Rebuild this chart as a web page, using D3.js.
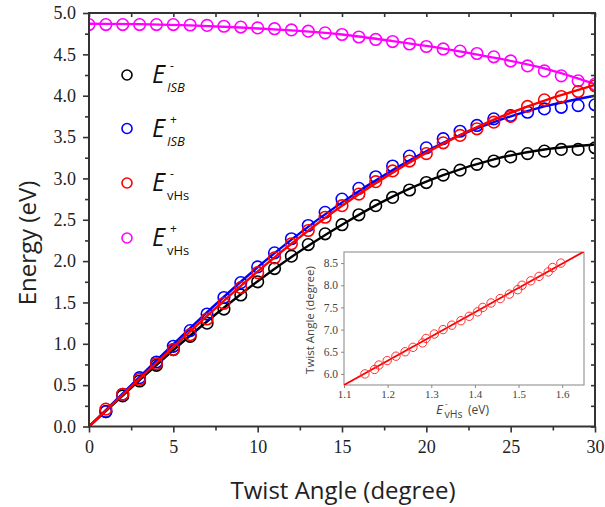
<!DOCTYPE html>
<html><head><meta charset="utf-8">
<script src="https://cdn.jsdelivr.net/npm/d3@7"></script>
<style>body{margin:0;background:#fff}svg{display:block}</style>
</head><body>
<svg id="c" width="605" height="507"></svg>
<script>
// ---- data ----
const angles = d3.range(1, 31);
const eIsbMinus = [0.18,0.37,0.55,0.74,0.93,1.09,1.25,1.42,1.59,1.75,1.91,2.06,2.20,2.33,2.44,2.56,2.67,2.77,2.86,2.95,3.04,3.10,3.17,3.21,3.26,3.30,3.33,3.35,3.35,3.37];
const eIsbPlus  = [0.18,0.39,0.59,0.78,0.97,1.16,1.36,1.56,1.74,1.93,2.10,2.27,2.43,2.59,2.75,2.88,3.02,3.15,3.27,3.37,3.48,3.57,3.64,3.72,3.76,3.80,3.84,3.86,3.88,3.89];
const eVhsMinus = [0.21,0.39,0.57,0.76,0.93,1.11,1.30,1.49,1.68,1.86,2.04,2.21,2.37,2.53,2.67,2.81,2.96,3.09,3.21,3.30,3.43,3.52,3.60,3.68,3.75,3.87,3.95,3.99,4.05,4.12];
const magAngles = d3.range(0, 31);
const eVhsPlus  = [4.86,4.86,4.86,4.86,4.86,4.86,4.855,4.85,4.84,4.83,4.82,4.81,4.795,4.78,4.76,4.74,4.71,4.68,4.655,4.625,4.595,4.565,4.54,4.51,4.47,4.42,4.36,4.30,4.24,4.18,4.14];
// fitted curves
const fitAngles = [0,3,6,9,12,15,18,21,24,27,30];
const fitIsbMinus = [0,0.56,1.10,1.60,2.05,2.44,2.78,3.04,3.23,3.35,3.41];
const fitIsbPlus  = [0,0.60,1.19,1.75,2.26,2.71,3.10,3.43,3.68,3.87,4.00];
const fitVhsMinus = [0,0.58,1.15,1.70,2.21,2.67,3.07,3.42,3.71,3.94,4.13];
const fitVhsPlus  = [4.87,4.865,4.85,4.825,4.79,4.74,4.66,4.57,4.46,4.33,4.14];
const xTicks = [0,5,10,15,20,25,30];
const yTicks = [0,0.5,1,1.5,2,2.5,3,3.5,4,4.5,5];
// inset
const insetE = [1.148,1.17,1.18,1.199,1.219,1.24,1.258,1.28,1.288,1.307,1.327,1.347,1.368,1.387,1.406,1.418,1.437,1.458,1.479,1.498,1.508,1.528,1.547,1.568,1.578,1.597];
const insetAngle = [6.0,6.1,6.2,6.3,6.4,6.5,6.6,6.7,6.8,6.9,7.0,7.1,7.2,7.3,7.4,7.5,7.6,7.7,7.8,7.9,8.0,8.1,8.2,8.3,8.4,8.5];
const insetFitE = [1.1,1.65];
const insetFitAngle = [5.75,8.76];
const insetXTicks = [1.1,1.2,1.3,1.4,1.5,1.6];
const insetYTicks = [6.0,6.5,7.0,7.5,8.0,8.5];

const colors = {isbM:"#000000", isbP:"#0000ff", vhsM:"#ff0000", vhsP:"#ff00ff"};

const svg = d3.select("#c");
const L=89, R=595, T=13, B=426.5;
const x = d3.scaleLinear().domain([0,30]).range([L,R]);
const y = d3.scaleLinear().domain([0,5]).range([B,T]);
const serif = "Liberation Serif, Times New Roman, serif";
const sans = "Open Sans, Noto Sans, sans-serif";

svg.append("clipPath").attr("id","clip").append("rect")
  .attr("x",L-1).attr("y",T).attr("width",R-L+2).attr("height",B-T);

const plot = svg.append("g").attr("clip-path","url(#clip)");
const line = d3.line().x(d=>x(d[0])).y(d=>y(d[1])).curve(d3.curveNatural);

function series(xs, ys, fx, fy, col){
  plot.append("path").datum(fx.map((a,i)=>[a,fy[i]]))
    .attr("d",line).attr("fill","none").attr("stroke",col).attr("stroke-width",2.4);
  plot.append("g").selectAll("circle").data(xs.map((a,i)=>[a,ys[i]])).join("circle")
    .attr("cx",d=>x(d[0])).attr("cy",d=>y(d[1])).attr("r",5.8)
    .attr("fill","none").attr("stroke",col).attr("stroke-width",1.6);
}
series(magAngles, eVhsPlus, fitAngles, fitVhsPlus, colors.vhsP);
series(angles, eIsbMinus, fitAngles, fitIsbMinus, colors.isbM);
series(angles, eIsbPlus, fitAngles, fitIsbPlus, colors.isbP);
series(angles, eVhsMinus, fitAngles, fitVhsMinus, colors.vhsM);
// small red cross at origin
plot.append("path").attr("d",`M${x(0)-4},${y(0)-4}L${x(0)+4},${y(0)+4}M${x(0)-4},${y(0)+4}L${x(0)+4},${y(0)-4}`)
  .attr("stroke",colors.vhsM).attr("stroke-width",1.6);

// axes
const axCol="#333";
function styleAxis(g){ g.select(".domain").remove(); g.selectAll("line").attr("stroke",axCol).attr("stroke-width",1.6); }
function styleLabels(g, size, col){ g.attr("font-family",null); g.selectAll("text").style("font-family",serif).style("font-size",size+"px").attr("fill",col); }
const minorX = d3.range(2.5,30,5), minorY = d3.range(0.25,5,0.5);
// bottom
let g = svg.append("g").attr("transform",`translate(0,${B})`)
  .call(d3.axisBottom(x).tickValues(xTicks).tickSize(6).tickPadding(8).tickFormat(d3.format("d")));
styleAxis(g); styleLabels(g,18,"#222");
g = svg.append("g").attr("transform",`translate(0,${B})`).call(d3.axisBottom(x).tickValues(minorX).tickSize(4).tickFormat(""));
styleAxis(g);
// left
g = svg.append("g").attr("transform",`translate(${L},0)`)
  .call(d3.axisLeft(y).tickValues(yTicks).tickSize(6).tickPadding(7).tickFormat(d3.format(".1f")));
styleAxis(g); styleLabels(g,18,"#222");
g = svg.append("g").attr("transform",`translate(${L},0)`).call(d3.axisLeft(y).tickValues(minorY).tickSize(4).tickFormat(""));
styleAxis(g);
// top (inward)
g = svg.append("g").attr("transform",`translate(0,${T})`).call(d3.axisBottom(x).tickValues(xTicks.concat(minorX)).tickSize(4).tickFormat(""));
styleAxis(g);
// right (inward)
g = svg.append("g").attr("transform",`translate(${R},0)`).call(d3.axisLeft(y).tickValues(yTicks.concat(minorY)).tickSize(4).tickFormat(""));
styleAxis(g);
svg.append("rect").attr("x",L).attr("y",T).attr("width",R-L).attr("height",B-T)
  .attr("fill","none").attr("stroke",axCol).attr("stroke-width",2);

// axis titles
svg.append("text").attr("x",343).attr("y",499).attr("text-anchor","middle")
  .style("font-family",sans).style("font-size","24px").attr("fill","#222").text("Twist Angle (degree)");
svg.append("text").attr("transform","translate(36,243) rotate(-90)").attr("text-anchor","middle")
  .style("font-family",sans).style("font-size","24px").attr("fill","#222").text("Energy (eV)");

// legend
const legend = [
  {col:colors.isbM, sup:"-", sub:"ISB", subItalic:true},
  {col:colors.isbP, sup:"+", sub:"ISB", subItalic:true},
  {col:colors.vhsM, sup:"-", sub:"vHs", subItalic:false},
  {col:colors.vhsP, sup:"+", sub:"vHs", subItalic:false}
];
const legY = [75,128.5,183,238];
legend.forEach((d,i)=>{
  const cy = legY[i];
  svg.append("circle").attr("cx",127).attr("cy",cy).attr("r",5).attr("fill","none")
    .attr("stroke",d.col).attr("stroke-width",1.6);
  svg.append("text").attr("x",152).attr("y",cy+8).style("font-family",sans).attr("font-style","italic")
    .style("font-size","25px").attr("fill","#111").text("E");
  svg.append("text").attr("x",170).attr("y",cy-5).style("font-family",sans)
    .style("font-size","12px").attr("fill","#111").text(d.sup);
  svg.append("text").attr("x",167).attr("y",cy+17).style("font-family",sans)
    .attr("font-style",d.subItalic?"italic":"normal")
    .style("font-size","13px").attr("fill","#111").text(d.sub);
});

// inset
const iL=344, iR=584, iT=252, iB=385;
const ix = d3.scaleLinear().domain([1.1,1.65]).range([iL,iR]);
const iy = d3.scaleLinear().domain([5.75,8.75]).range([iB,iT]);
svg.append("rect").attr("x",iL).attr("y",iT).attr("width",iR-iL).attr("height",iB-iT)
  .attr("fill","#fff").attr("stroke","#999").attr("stroke-width",1.2);
svg.append("clipPath").attr("id","iclip").append("rect").attr("x",iL).attr("y",iT).attr("width",iR-iL).attr("height",iB-iT);
const ig = svg.append("g").attr("clip-path","url(#iclip)");
ig.append("path").datum(insetFitE.map((e,i)=>[e,insetFitAngle[i]]))
  .attr("d",d3.line().x(d=>ix(d[0])).y(d=>iy(d[1]))).attr("stroke","#ff0000").attr("stroke-width",1.8).attr("fill","none");
ig.selectAll("circle").data(insetE.map((e,i)=>[e,insetAngle[i]])).join("circle")
  .attr("cx",d=>ix(d[0])).attr("cy",d=>iy(d[1])).attr("r",4.2).attr("fill","none")
  .attr("stroke","#ff3030").attr("stroke-width",1);
g = svg.append("g").attr("transform",`translate(0,${iB})`)
  .call(d3.axisBottom(ix).tickValues(insetXTicks).tickSize(3).tickPadding(2).tickFormat(d3.format(".1f")));
g.select(".domain").remove(); g.selectAll("line").attr("stroke","#888");
styleLabels(g,11,"#444");
g = svg.append("g").attr("transform",`translate(${iL},0)`)
  .call(d3.axisLeft(iy).tickValues(insetYTicks).tickSize(3).tickPadding(3).tickFormat(d3.format(".1f")));
g.select(".domain").remove(); g.selectAll("line").attr("stroke","#888");
styleLabels(g,11.5,"#444");
svg.append("text").attr("transform","translate(314,320) rotate(-90)").attr("text-anchor","middle")
  .style("font-family",sans).style("font-size","11.5px").attr("fill","#444").text("Twist Angle (degree)");
// inset x label: E (italic) with superscript "-" and subscript "vHs", then (eV)
svg.append("text").attr("x",436).attr("y",414).style("font-family",sans).attr("font-style","italic")
  .style("font-size","13px").attr("fill","#444").text("E");
svg.append("text").attr("x",445).attr("y",406).style("font-family",sans)
  .style("font-size","8px").attr("fill","#444").text("-");
svg.append("text").attr("x",444.5).attr("y",418).style("font-family",sans)
  .style("font-size","10.5px").attr("fill","#444").text("vHs");
svg.append("text").attr("x",468).attr("y",414).style("font-family",sans)
  .style("font-size","12px").attr("fill","#444").text("(eV)");
</script>
</body></html>
